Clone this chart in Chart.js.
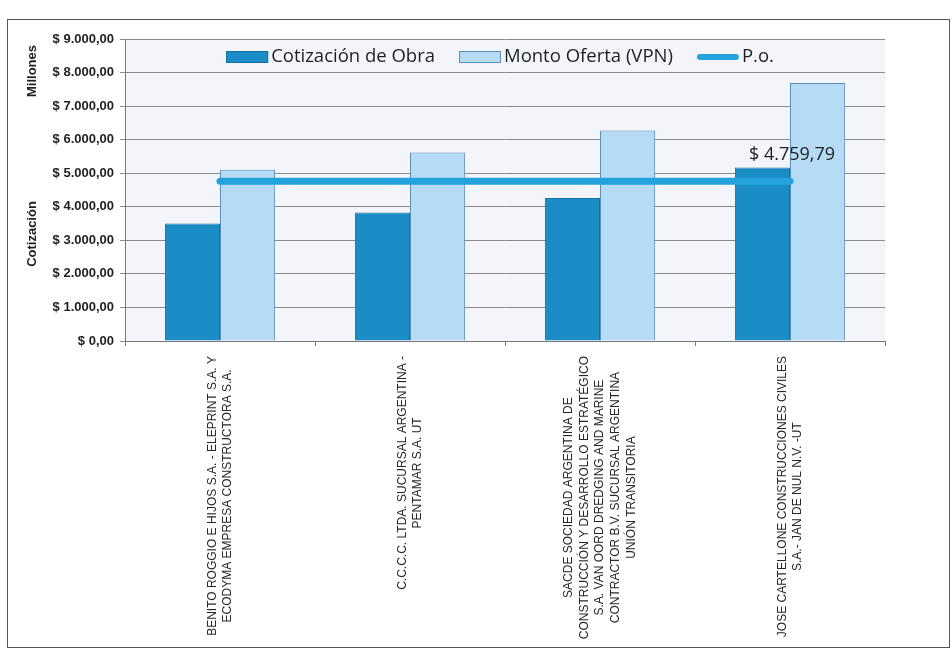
<!DOCTYPE html>
<html lang="es">
<head>
<meta charset="utf-8">
<title>Cotización de Obra vs Monto Oferta</title>
<script src="https://cdn.jsdelivr.net/npm/chart.js@4.4.1/dist/chart.umd.min.js"></script>
<style>
    html, body { margin: 0; padding: 0; background: #ffffff; }
    #wrap { position: relative; width: 952px; height: 653px; }
</style>
</head>
<body>
<div id="wrap"><canvas id="graphic" width="952" height="653"></canvas></div>
<script>
/* Oferentes (cada etiqueta partida en lineas como en el original) */
const categories = [
    ["BENITO ROGGIO E HIJOS S.A. - ELEPRINT S.A. Y", "ECODYMA EMPRESA CONSTRUCTORA S.A."],
    ["C.C.C.C. LTDA. SUCURSAL ARGENTINA -", "PENTAMAR S.A. UT"],
    ["SACDE SOCIEDAD ARGENTINA DE", "CONSTRUCCIÓN Y DESARROLLO ESTRATÉGICO", "S.A. VAN OORD DREDGING AND MARINE", "CONTRACTOR B.V. SUCURSAL ARGENTINA", "UNIÓN TRANSITORIA"],
    ["JOSE CARTELLONE CONSTRUCCIONES CIVILES", "S.A.- JAN DE NUL N.V. -UT"]
];

/* Valores en millones de pesos */
const cotizacionObra = [3500, 3830, 4260, 5170];
const montoOferta = [5100, 5620, 6270, 7690];
const presupuestoOficial = [4759.79, 4759.79, 4759.79, 4759.79];

const yTicks = [0, 1000, 2000, 3000, 4000, 5000, 6000, 7000, 8000, 9000];
const axisTitle = "Cotización";
const unitTitle = "Millones";

const formatPesos = (v) => {
    const [ent, dec] = v.toFixed(2).split(".");
    return "$ " + ent.replace(/\B(?=(\d{3})+(?!\d))/g, ".") + "," + dec;
};

/* Fondo del area de trazado y marco exterior */
const backgroundPlugin = {
    id: "background",
    beforeDraw(chart) {
        const { ctx, chartArea: a } = chart;
        ctx.save();
        ctx.fillStyle = "#f3f5fa";
        ctx.fillRect(a.left, a.top, a.right - a.left, a.bottom - a.top);
        ctx.restore();
    },
    afterDraw(chart) {
        const { ctx } = chart;
        ctx.save();
        ctx.strokeStyle = "#555555";
        ctx.lineWidth = 1;
        ctx.strokeRect(7.5, 19.5, 942, 628);
        ctx.restore();
    }
};

/* Etiquetas del eje X giradas, con lineas centradas */
const xLabelsPlugin = {
    id: "xLabels",
    afterDraw(chart) {
        const { ctx, chartArea, scales: { x } } = chart;
        const lineHeight = 15.6;
        ctx.save();
        ctx.font = '12px "Liberation Sans", Arial, sans-serif';
        ctx.fillStyle = "#262626";
        ctx.textAlign = "center";
        ctx.textBaseline = "middle";
        categories.forEach((lines, i) => {
            const cx = x.getPixelForValue(i);
            const maxW = Math.max(...lines.map(l => ctx.measureText(l).width));
            ctx.save();
            ctx.translate(cx, chartArea.bottom + 15 + maxW / 2);
            ctx.rotate(-Math.PI / 2);
            lines.forEach((l, j) => {
                ctx.fillText(l, 0, (j - (lines.length - 1) / 2) * lineHeight);
            });
            ctx.restore();
        });
        ctx.restore();
    }
};

/* Titulos del eje Y ("Millones" y "Cotización") */
const axisTitlesPlugin = {
    id: "axisTitles",
    afterDraw(chart) {
        const { ctx, chartArea } = chart;
        ctx.save();
        ctx.font = 'bold 13px "Liberation Sans", Arial, sans-serif';
        ctx.fillStyle = "#1f1f1f";
        ctx.textAlign = "center";
        ctx.textBaseline = "middle";
        [[unitTitle, chartArea.top + 32], [axisTitle, chartArea.top + 195]].forEach(([t, cy]) => {
            ctx.save();
            ctx.translate(32, cy);
            ctx.rotate(-Math.PI / 2);
            ctx.fillText(t, 0, 0);
            ctx.restore();
        });
        ctx.restore();
    }
};

/* Leyenda dentro del area de trazado */
const legendPlugin = {
    id: "insideLegend",
    afterDatasetsDraw(chart) {
        const { ctx, chartArea } = chart;
        const sets = chart.data.datasets;
        const boxW = 42, boxH = 12, textGap = 3, itemGap = 24;
        ctx.save();
        ctx.font = '18.5px "Open Sans", sans-serif';
        const widths = sets.map(ds => boxW + textGap + ctx.measureText(ds.label).width);
        const total = widths.reduce((s, w) => s + w, 0) + itemGap * (sets.length - 1);
        let cx = (chartArea.left + chartArea.right) / 2 - 5 - total / 2;
        const cy = chartArea.top + 18;
        ctx.textBaseline = "middle";
        ctx.textAlign = "left";
        sets.forEach((ds, i) => {
            if (ds.type === "line") {
                ctx.strokeStyle = ds.borderColor;
                ctx.lineWidth = 6;
                ctx.lineCap = "round";
                ctx.beginPath();
                ctx.moveTo(cx + 3, cy);
                ctx.lineTo(cx + boxW - 3, cy);
                ctx.stroke();
            } else {
                ctx.fillStyle = ds.backgroundColor;
                ctx.fillRect(cx, cy - boxH / 2, boxW, boxH);
                ctx.strokeStyle = ds.borderColor;
                ctx.lineWidth = 1;
                ctx.strokeRect(cx + 0.5, cy - boxH / 2 + 0.5, boxW - 1, boxH - 1);
            }
            ctx.fillStyle = "#1f1f1f";
            ctx.fillText(ds.label, cx + boxW + textGap, cy);
            cx += widths[i] + itemGap;
        });
        ctx.restore();
    }
};

/* Etiqueta del presupuesto oficial sobre el ultimo punto */
const poLabelPlugin = {
    id: "poLabel",
    afterDatasetsDraw(chart) {
        const meta = chart.getDatasetMeta(2);
        const last = presupuestoOficial.length - 1;
        const pt = meta.data[last];
        if (!pt) return;
        const { ctx } = chart;
        ctx.save();
        ctx.font = '18px "Open Sans", sans-serif';
        ctx.fillStyle = "#1f1f1f";
        ctx.textAlign = "center";
        ctx.textBaseline = "middle";
        ctx.fillText(formatPesos(presupuestoOficial[last]), pt.x + 2, pt.y - 26);
        ctx.restore();
    }
};

const data = {
    labels: categories,
    datasets: [
        {
            type: "bar",
            label: "Cotización de Obra",
            data: cotizacionObra,
            backgroundColor: "#1a8cc6",
            borderColor: "#15719f",
            borderWidth: 1,
            barPercentage: 1,
            categoryPercentage: 0.58,
            order: 2
        },
        {
            type: "bar",
            label: "Monto Oferta (VPN)",
            data: montoOferta,
            backgroundColor: "#b6dbf5",
            borderColor: "#5e8fb8",
            borderWidth: 1,
            barPercentage: 1,
            categoryPercentage: 0.58,
            order: 2
        },
        {
            type: "line",
            label: "P.o.",
            data: presupuestoOficial,
            borderColor: "#23a2dc",
            borderWidth: 7,
            borderCapStyle: "round",
            pointRadius: 0,
            fill: false,
            order: 1
        }
    ]
};

const config = {
    type: "bar",
    data: data,
    options: {
        responsive: false,
        animation: false,
        devicePixelRatio: 1,
        layout: { padding: { top: 39, right: 67, bottom: 0, left: 0 } },
        plugins: {
            legend: { display: false },
            tooltip: { enabled: false }
        },
        scales: {
            x: {
                grid: { drawOnChartArea: false, drawTicks: true, tickLength: 5, color: "#777777" },
                border: { color: "#777777" },
                ticks: { display: false },
                afterFit: (scale) => { scale.height = 312; }
            },
            y: {
                min: yTicks[0],
                max: yTicks[yTicks.length - 1],
                afterBuildTicks: (scale) => { scale.ticks = yTicks.map(v => ({ value: v })); },
                grid: { color: "#8a8a8a", lineWidth: 1, tickLength: 5 },
                border: { color: "#777777" },
                ticks: {
                    padding: 6,
                    color: "#1f1f1f",
                    font: { family: '"Liberation Sans", Arial, sans-serif', size: 13, weight: "bold" },
                    callback: (v) => formatPesos(v)
                },
                afterFit: (scale) => { scale.width = 125; }
            }
        }
    },
    plugins: [backgroundPlugin, xLabelsPlugin, axisTitlesPlugin, legendPlugin, poLabelPlugin]
};

const grafico = new Chart(document.querySelector("#graphic"), config);
</script>
</body>
</html>
